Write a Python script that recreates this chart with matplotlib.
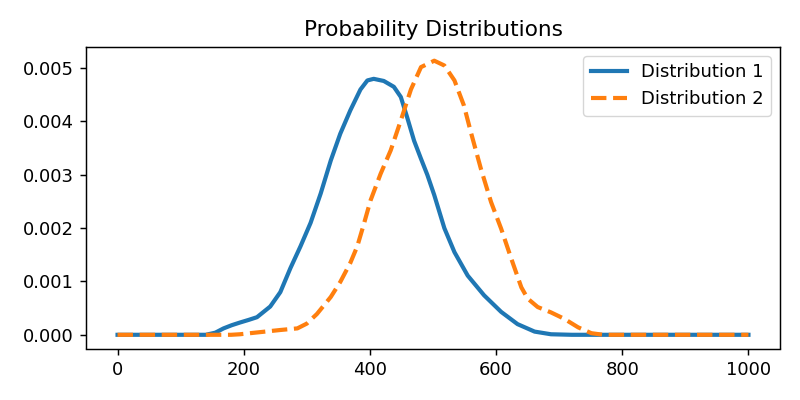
import matplotlib
matplotlib.use("Agg")
import matplotlib.pyplot as plt

dist1_x = [0, 100, 140, 155, 168, 181, 194, 208, 221, 242, 258, 274, 290, 306, 322, 338, 353,
           369, 385, 396, 406, 422, 438, 449, 459, 470, 481, 491, 502, 518, 534, 555, 581,
           608, 634, 661, 687, 720, 1000]
dist1_y = [0, 0, 0, 0.00004, 0.00012, 0.00018, 0.00023, 0.00028, 0.00033, 0.00053, 0.00080,
           0.00125, 0.00166, 0.00210, 0.00265, 0.00327, 0.00377, 0.00421, 0.00460, 0.00477,
           0.00480, 0.00476, 0.00465, 0.00446, 0.00408, 0.00364, 0.00330, 0.00300, 0.00262,
           0.00200, 0.00155, 0.00111, 0.00074, 0.00043, 0.00020, 0.00006, 0.00001, 0, 0]

dist2_x = [0, 100, 180, 194, 226, 258, 285, 300, 316, 338, 353, 369, 380, 390, 401, 417, 433,
           449, 465, 481, 502, 518, 534, 549, 560, 576, 592, 608, 624, 640, 650, 666, 687,
           708, 730, 751, 770, 1000]
dist2_y = [0, 0, 0, 0.00001, 0.00005, 0.00009, 0.00012, 0.00021, 0.00039, 0.00071, 0.00099,
           0.00135, 0.00166, 0.00206, 0.00252, 0.00302, 0.00346, 0.00402, 0.00460, 0.00502,
           0.00514, 0.00505, 0.00477, 0.00430, 0.00380, 0.00311, 0.00249, 0.00199, 0.00143,
           0.00089, 0.00068, 0.00052, 0.00042, 0.00030, 0.00014, 0.00003, 0, 0]

plt.rcParams.update({
    "xtick.major.size": 4.5, "ytick.major.size": 4.5,
    "xtick.major.pad": 4.5, "ytick.major.pad": 4.5,
    "xtick.major.width": 1.05, "ytick.major.width": 1.05,
    "axes.linewidth": 1.05,
})

fig, ax = plt.subplots(figsize=(8, 4), dpi=100)
ax.plot(dist1_x, dist1_y, color="#1f77b4", lw=3, label="Distribution 1")
ax.plot(dist2_x, dist2_y, color="#ff7f0e", lw=3, ls="--", label="Distribution 2")
ax.set_title("Probability Distributions", fontsize=15.6, pad=7.8)
ax.tick_params(labelsize=13)
ax.legend(fontsize=13)
fig.subplots_adjust(left=86/800, right=780/800, top=1-47/400, bottom=1-348.5/400)
fig.savefig("out.png")
